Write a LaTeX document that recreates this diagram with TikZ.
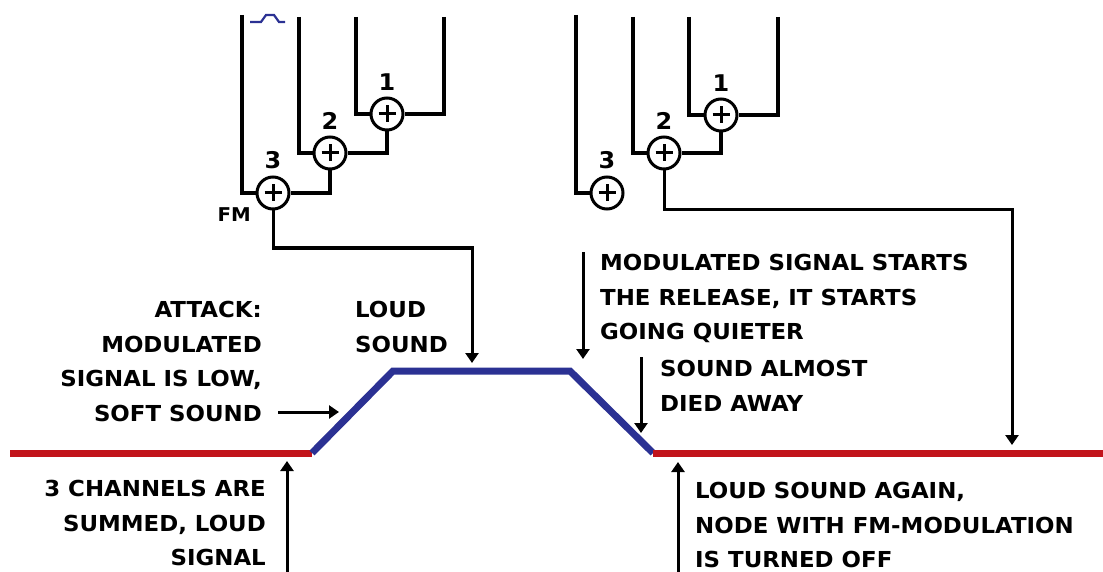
\documentclass[tikz,border=0pt]{standalone}
\usepackage{fontspec}
\setmainfont{DejaVu Sans}[FakeStretch=1.04]
\usetikzlibrary{arrows.meta,positioning}
\definecolor{sigred}{HTML}{C2141B}
\definecolor{sigblue}{HTML}{2B3193}
\newcommand\notefont{\bfseries\fontsize{22}{34.5}\selectfont}
\tikzset{
  wire/.style={line width=3.2pt},
  summer/.style={circle,draw,line width=3pt,minimum size=32pt,inner sep=0pt,fill=white,
    path picture={\draw[line width=3pt]
      ([xshift=7.5pt]path picture bounding box.west) -- ([xshift=-7.5pt]path picture bounding box.east)
      ([yshift=-7.5pt]path picture bounding box.north) -- ([yshift=7.5pt]path picture bounding box.south);}},
  num/.style={inner sep=0pt,font=\bfseries\fontsize{23}{23}\selectfont},
  note/.style={inner sep=0pt,font=\notefont},
  pointer/.style={line width=3pt,-{Triangle[width=13pt,length=10pt]}},
  level/.style={line width=7pt}
}
\begin{document}
\begin{tikzpicture}[x=1pt,y=-1pt]
\useasboundingbox (0,0) rectangle (1103,572);
% summing nodes, left group
\node[summer] (sumA1) at (387,114) {};
\node[summer] (sumA2) at (330,153) {};
\node[summer] (sumA3) at (273,193) {};
\node[num, above=6pt of sumA1] (numA1) {1};
\node[num, above=6pt of sumA2] (numA2) {2};
\node[num, above=6pt of sumA3] (numA3) {3};
\node[inner sep=0pt,font=\bfseries\fontsize{19}{19}\selectfont,anchor=north east] (fmLabel) at (251,207) {FM};
% summing nodes, right group
\node[summer] (sumB1) at (721,115) {};
\node[summer] (sumB2) at (664,153) {};
\node[summer] (sumB3) at (607,193) {};
\node[num, above=6pt of sumB1] (numB1) {1};
\node[num, above=6pt of sumB2] (numB2) {2};
\node[num, above=6pt of sumB3] (numB3) {3};
% wire ends
\coordinate (inA3) at (242,15);
\coordinate (inA2) at (299,17);
\coordinate (inA1) at (356,17);
\coordinate (inA0) at (444,17);
\coordinate (inB3) at (576,15);
\coordinate (inB2) at (633,17);
\coordinate (inB1) at (689,17);
\coordinate (inB0) at (778,17);
\coordinate (bendA) at (472,248);
\coordinate (bendB) at (1012,210);
\coordinate (loudTip) at (472,363);
\coordinate (farTip) at (1012,445);
% wiring
\draw[wire] (inA3) |- (sumA3.west);
\draw[wire] (inA2) |- (sumA2.west);
\draw[wire] (inA1) |- (sumA1.west);
\draw[wire] (inA0) |- (sumA1.east);
\draw[wire] (sumA1.south) |- (sumA2.east);
\draw[wire] (sumA2.south) |- (sumA3.east);
\draw[wire] (inB3) |- (sumB3.west);
\draw[wire] (inB2) |- (sumB2.west);
\draw[wire] (inB1) |- (sumB1.west);
\draw[wire] (inB0) |- (sumB1.east);
\draw[wire] (sumB1.south) |- (sumB2.east);
\draw[pointer] (sumA3.south) |- (bendA) -- (loudTip);
\draw[pointer] (sumB2.south) |- (bendB) -- (farTip);
% small pulse icon
\draw[sigblue,line width=2.2pt] (250,22) -- (261,22) -- (266,15) -- (274,15) -- (279,22) -- (285,22);
% the signal level
\coordinate (lineStart) at (10,453);
\coordinate (attackStart) at (312,453);
\coordinate (attackTop) at (393,371);
\coordinate (releaseStart) at (570,371);
\coordinate (releaseEnd) at (653,453);
\coordinate (lineEnd) at (1103,453);
\draw[level,sigred] (lineStart) -- (attackStart);
\draw[level,sigblue] (attackStart) -- (attackTop) -- (releaseStart) -- (releaseEnd);
\draw[level,sigred] (releaseEnd) -- (lineEnd);
% notes
\node[note,anchor=north east,align=right] (attackNote) at (262,301) {ATTACK:\\MODULATED\\SIGNAL IS LOW,\\SOFT SOUND};
\node[note,anchor=north west,align=left] (loudNote) at (355,301) {LOUD\\SOUND};
\node[note,anchor=north east,align=right] (sumNote) at (266,480) {3 CHANNELS ARE\\SUMMED, LOUD\\SIGNAL};
\node[note,anchor=north west,align=left] (releaseNote) at (600,254) {MODULATED SIGNAL STARTS\\THE RELEASE, IT STARTS\\GOING QUIETER};
\node[note,anchor=north west,align=left] (diedNote) at (660,360) {SOUND ALMOST\\DIED AWAY};
\node[note,anchor=north west,align=left] (againNote) at (695,482) {LOUD SOUND AGAIN,\\NODE WITH FM-MODULATION\\IS TURNED OFF};
% pointers to the signal
\coordinate (attackFrom) at (278,412);
\coordinate (attackTip) at (339,412);
\coordinate (sumFrom) at (287,572);
\coordinate (sumTip) at (287,461);
\coordinate (releaseFrom) at (583,252);
\coordinate (releaseTip) at (583,359);
\coordinate (diedFrom) at (641,357);
\coordinate (diedTip) at (641,433);
\coordinate (againFrom) at (678,572);
\coordinate (againTip) at (678,462);
\draw[pointer] (attackFrom) -- (attackTip);
\draw[pointer] (sumFrom) -- (sumTip);
\draw[pointer] (releaseFrom) -- (releaseTip);
\draw[pointer] (diedFrom) -- (diedTip);
\draw[pointer] (againFrom) -- (againTip);
\end{tikzpicture}
\end{document}
